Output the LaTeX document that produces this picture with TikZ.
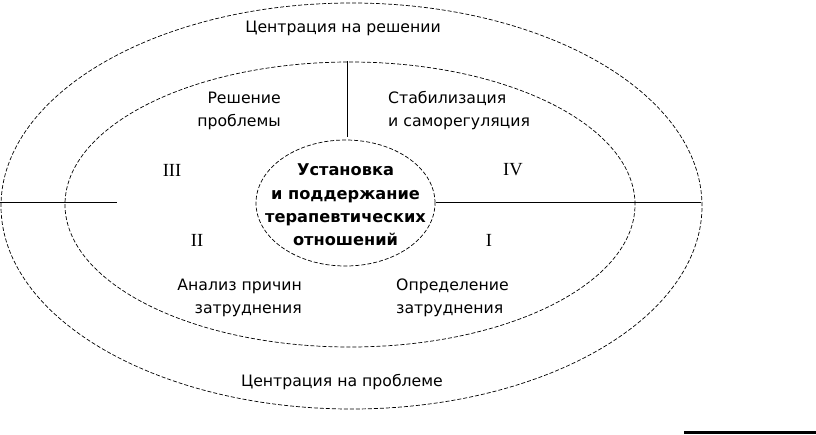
\documentclass[tikz,border=0pt]{standalone}
\usepackage{fontspec}
\setmainfont{DejaVu Sans}
\newfontfamily\romfont{Liberation Serif}
\usetikzlibrary{shapes.geometric}
\tikzset{
  ring/.style={ellipse, draw, line width=0.7pt, dash pattern=on 4pt off 2pt, inner sep=0pt},
  lbl/.style={font=\fontsize{15.7}{23}\selectfont, inner sep=0pt},
  rom/.style={font=\romfont\fontsize{18.5}{18.5}\selectfont, inner sep=0pt},
  core/.style={font=\bfseries\fontsize{16.2}{23.3}\selectfont, align=center, inner sep=0pt},
  sep/.style={line width=0.8pt}
}
\begin{document}
\begin{tikzpicture}[x=1pt,y=-1pt]
\useasboundingbox (0,0) rectangle (816,434);
\node[ring, minimum width=701pt, minimum height=406pt] (outer) at (351.5,206) {};
\node[ring, minimum width=570pt, minimum height=285pt] (inner) at (350,204.5) {};
\node[ring, minimum width=179pt, minimum height=126pt] (center) at (345.5,203) {};
\node[core] (ctext) at (345.5,205) {Установка\\и поддержание\\терапевтических\\отношений};
% separators
\coordinate (lA) at (0,202);
\coordinate (lB) at (117,202);
\coordinate (rA) at (436,202);
\coordinate (rB) at (701,202);
\coordinate (vA) at (347.5,61);
\coordinate (vB) at (347.5,137);
\draw[sep] (lA) -- (lB);
\draw[sep] (rA) -- (rB);
\draw[sep] (vA) -- (vB);
% texts
\node[lbl] (top) at (343,28) {Центрация на решении};
\node[lbl] (bot) at (342,382) {Центрация на проблеме};
\node[lbl, align=right, anchor=east] (q3) at (281,111) {Решение\\проблемы};
\node[lbl, align=left, anchor=west] (q4) at (388,111) {Стабилизация\\и саморегуляция};
\node[lbl, align=right, anchor=east] (q2) at (302,298) {Анализ причин\\затруднения};
\node[lbl, align=left, anchor=west] (q1) at (396,298) {Определение\\затруднения};
\node[rom] (r3) at (172,170) {III};
\node[rom] (r4) at (513,170) {IV};
\node[rom] (r2) at (197,240) {II};
\node[rom] (r1) at (489,240) {I};
% bottom-right rule
\coordinate (bA) at (684,432.5);
\coordinate (bB) at (816,432.5);
\draw[line width=2.5pt] (bA) -- (bB);
\end{tikzpicture}
\end{document}
